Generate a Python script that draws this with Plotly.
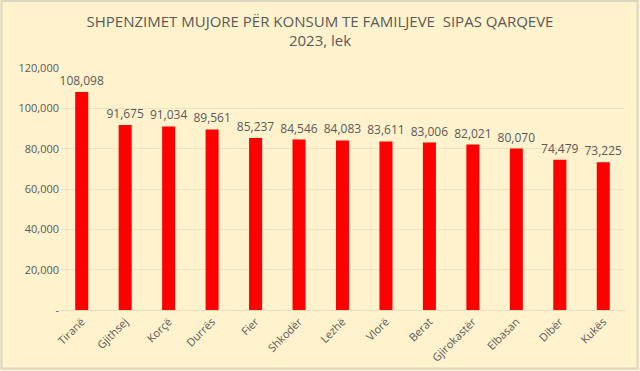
import plotly.graph_objects as go

categories = ["Tiranë", "Gjithsej", "Korçë", "Durrës", "Fier", "Shkodër", "Lezhë",
              "Vlorë", "Berat", "Gjirokastër", "Elbasan", "Dibër", "Kukës"]
values = [108098, 91675, 91034, 89561, 85237, 84546, 84083, 83611, 83006, 82021, 80070, 74479, 73225]
ytick_vals = [0, 20000, 40000, 60000, 80000, 100000, 120000]
ytick_text = ["-", "20,000", "40,000", "60,000", "80,000", "100,000", "120,000"]

W, H = 640, 371
ml, mr, mt, mb = 60, 15, 68, 61

fig = go.Figure(go.Bar(
    x=categories, y=values,
    marker=dict(color="#FF0000", line=dict(width=0)),
    text=[f"{v:,}" for v in values],
    textposition="outside",
    constraintext="none",
    textfont=dict(size=12, color="#595959", family="Open Sans"),
    cliponaxis=False,
))

pw = W - ml - mr
ph = H - mt - mb
fig.update_layout(
    width=W, height=H,
    margin=dict(l=ml, r=mr, t=mt, b=mb, autoexpand=False),
    paper_bgcolor="#FFF2CC", plot_bgcolor="#FFF2CC",
    font=dict(family="Open Sans", color="#595959"),
    title=dict(text="SHPENZIMET MUJORE PËR KONSUM TE FAMILJEVE  SIPAS QARQEVE<br>2023, lek",
               x=0.5, xanchor="center", y=0.928, yanchor="top",
               font=dict(size=15, color="#595959", family="Open Sans")),
    bargap=0.7,
    showlegend=False,
    xaxis=dict(tickangle=-45, tickfont=dict(size=11, color="#595959"), automargin=False,
               showline=True, linecolor="#E6DDBF", ticks="", showgrid=False),
    yaxis=dict(range=[0, 120000], tickvals=ytick_vals, ticktext=ytick_text, automargin=False,
               tickfont=dict(size=11, color="#595959"),
               showgrid=True, gridcolor="#EDE3C3", gridwidth=1, zeroline=False,
               ticks="", showline=False),
    shapes=[dict(type="rect", xref="paper", yref="paper",
                 x0=-(ml - 1.5) / pw, x1=1 + (mr - 2.5) / pw,
                 y0=-(mb - 2.5) / ph, y1=1 + (mt - 1) / ph,
                 line=dict(color="#DCD6C4", width=2), fillcolor="rgba(0,0,0,0)",
                 layer="above")],
)

fig.write_html("out.html", config={"displayModeBar": False},
               post_script="document.body.style.margin='0';")
